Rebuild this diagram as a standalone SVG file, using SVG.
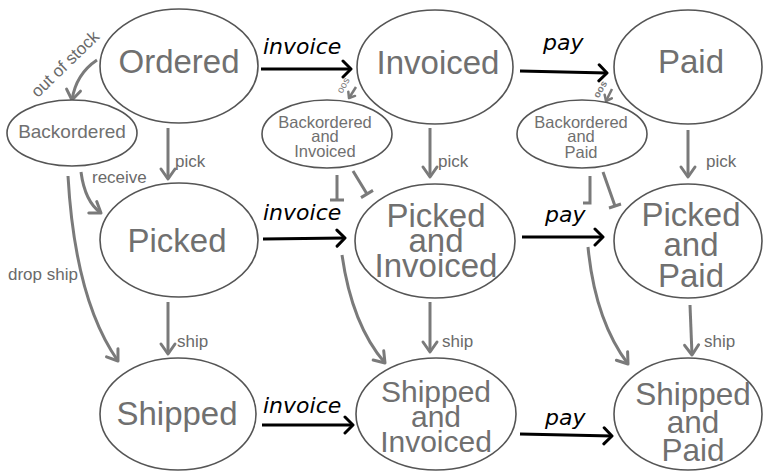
<svg xmlns="http://www.w3.org/2000/svg" width="763" height="472" viewBox="0 0 763 472">
<style>
.node ellipse{fill:#fff;stroke:#555;stroke-width:1.6}
.big{font-family:"Liberation Sans",Arial,sans-serif;font-size:33px;fill:#707070;text-anchor:middle}
.mid{font-family:"Liberation Sans",Arial,sans-serif;font-size:30px;fill:#707070;text-anchor:middle}
.small{font-family:"Liberation Sans",Arial,sans-serif;font-size:16.5px;fill:#707070;text-anchor:middle}
.lbl{font-family:"Liberation Sans",Arial,sans-serif;font-size:17px;fill:#6a6a6a}
.act{font-family:"DejaVu Sans",Verdana,sans-serif;font-size:22px;font-style:italic;fill:#000}
.blk{fill:none;stroke:#000;stroke-width:3;marker-end:url(#ah)}
.gry{fill:none;stroke:#7a7a7a;stroke-width:3;marker-end:url(#ag)}
.tee{fill:none;stroke:#7a7a7a;stroke-width:3}
.tiny{fill:none;stroke:#7a7a7a;stroke-width:2.5;marker-end:url(#at)}
</style>
<defs>
<marker id="ah" markerUnits="userSpaceOnUse" markerWidth="20" markerHeight="20" viewBox="0 0 20 20" refX="17" refY="10" orient="auto">
<path d="M9,2 L17,10 L9,18" fill="none" stroke="#000" stroke-width="3" stroke-linecap="round" stroke-linejoin="round"/>
</marker>
<marker id="ag" markerUnits="userSpaceOnUse" markerWidth="20" markerHeight="20" viewBox="0 0 20 20" refX="17" refY="10" orient="auto">
<path d="M7,3 L17,10 L7,17" fill="none" stroke="#7a7a7a" stroke-width="3" stroke-linecap="round" stroke-linejoin="round"/>
</marker>
<marker id="at" markerUnits="userSpaceOnUse" markerWidth="12" markerHeight="12" viewBox="0 0 12 12" refX="10" refY="6" orient="auto">
<path d="M5,2 L10,6 L5,10" fill="none" stroke="#7a7a7a" stroke-width="2.5" stroke-linecap="round" stroke-linejoin="round"/>
</marker>
</defs>
<rect width="763" height="472" fill="#fff"/>

<g id="connectors">
<path class="blk" d="M261,69 L351,69"/>
<path class="blk" d="M520,71 L607,73"/>
<path class="blk" d="M263,239 L345,238"/>
<path class="blk" d="M522,237 L603,237"/>
<path class="blk" d="M262,425 L353,425"/>
<path class="blk" d="M520,434 L612,436"/>
<path class="gry" d="M97,60 Q76,74 72,100"/>
<path class="gry" d="M168,128 L168,179"/>
<path class="gry" d="M81,172 Q85,202 101,213"/>
<path class="gry" d="M68,176 Q75,300 118,361"/>
<path class="gry" d="M168,302 L168,354"/>
<path class="gry" d="M430,128 L430,177"/>
<path class="gry" d="M688,130 L688,177"/>
<path class="gry" d="M430,302 L430,352"/>
<path class="gry" d="M690,305 L692,355"/>
<path class="gry" d="M342,255 Q352,325 385,363"/>
<path class="gry" d="M588,247 Q595,320 628,364"/>
<path class="tee" d="M337,175 L337,200 M330,200 L344,200"/>
<path class="tee" d="M353,171 L367,194 M361,197.6 L373,190.4"/>
<path class="tee" d="M590,176 L590,203 L583,203"/>
<path class="tee" d="M603,172 L615,206 M609,208 L621,204"/>
<path class="tiny" d="M356,87 L349,98"/>
<path class="tiny" d="M612,89 L606,101"/>
<text class="act" x="263" y="54">invoice</text>
<text class="act" x="543" y="50">pay</text>
<text class="act" x="263" y="220">invoice</text>
<text class="act" x="545" y="222">pay</text>
<text class="act" x="263" y="413">invoice</text>
<text class="act" x="545" y="425">pay</text>
<text class="lbl" x="69" y="68" text-anchor="middle" transform="rotate(-44 69 68)">out of stock</text>
<text class="lbl" x="175" y="167">pick</text>
<text class="lbl" x="92" y="183">receive</text>
<text class="lbl" x="8" y="280">drop ship</text>
<text class="lbl" x="177" y="347">ship</text>
<text class="lbl" x="438" y="167">pick</text>
<text class="lbl" x="706" y="167">pick</text>
<text class="lbl" x="442" y="347">ship</text>
<text class="lbl" x="704" y="347">ship</text>
<text x="346" y="87" font-family="Liberation Sans, Arial, sans-serif" font-size="10" fill="#7a7a7a" text-anchor="middle" transform="rotate(-60 346 87)">oos</text>
<text x="603" y="91" font-family="Liberation Sans, Arial, sans-serif" font-size="10" font-weight="bold" fill="#7a7a7a" text-anchor="middle" transform="rotate(-60 603 91)">oos</text>
</g>

<g id="ordered" class="node"><ellipse cx="179" cy="66" rx="79" ry="57"/><text class="big" x="179" y="73">Ordered</text></g>
<g id="invoiced" class="node"><ellipse cx="435" cy="67" rx="78" ry="57"/><text class="big" x="438" y="74">Invoiced</text></g>
<g id="paid" class="node"><ellipse cx="688" cy="67" rx="74" ry="57"/><text class="big" x="691" y="73">Paid</text></g>
<g id="backordered" class="node"><ellipse cx="72" cy="133" rx="65" ry="33"/><text class="small" x="72" y="138" style="font-size:19px">Backordered</text></g>
<g id="backordered-invoiced" class="node"><ellipse cx="327" cy="134" rx="65" ry="34"/><text class="small" x="325" y="128">Backordered<tspan x="325" dy="14">and</tspan><tspan x="325" dy="15">Invoiced</tspan></text></g>
<g id="backordered-paid" class="node"><ellipse cx="582" cy="134" rx="65" ry="34"/><text class="small" x="581" y="128">Backordered<tspan x="581" dy="14">and</tspan><tspan x="581" dy="16">Paid</tspan></text></g>
<g id="picked" class="node"><ellipse cx="179" cy="240" rx="79" ry="57"/><text class="big" x="177" y="252">Picked</text></g>
<g id="picked-invoiced" class="node"><ellipse cx="435" cy="241" rx="80" ry="57"/><text class="big" x="436" y="227">Picked<tspan x="436" dy="25">and</tspan><tspan x="436" dy="25">Invoiced</tspan></text></g>
<g id="picked-paid" class="node"><ellipse cx="688" cy="241" rx="74" ry="57"/><text class="big" x="691" y="226">Picked<tspan x="691" dy="30">and</tspan><tspan x="691" dy="31">Paid</tspan></text></g>
<g id="shipped" class="node"><ellipse cx="178" cy="414" rx="78" ry="56"/><text class="big" x="177" y="425">Shipped</text></g>
<g id="shipped-invoiced" class="node"><ellipse cx="436" cy="414" rx="80" ry="56"/><text class="mid" x="436" y="402">Shipped<tspan x="436" dy="25">and</tspan><tspan x="436" dy="25">Invoiced</tspan></text></g>
<g id="shipped-paid" class="node"><ellipse cx="688" cy="414" rx="74" ry="56"/><text class="mid" x="693" y="405" style="font-size:31.5px">Shipped<tspan x="693" dy="28">and</tspan><tspan x="693" dy="28">Paid</tspan></text></g>
</svg>
